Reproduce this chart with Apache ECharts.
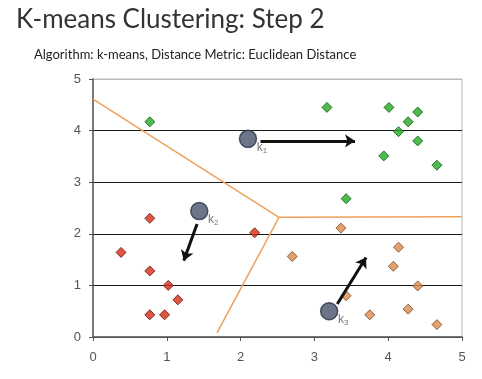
<!DOCTYPE html>
<html>
<head>
<meta charset="utf-8">
<script src="https://cdn.jsdelivr.net/npm/echarts@6/dist/echarts.min.js"></script>
<style>html,body{margin:0;padding:0;background:#fff}#c{width:482px;height:379px}</style>
</head>
<body>
<div id="c"></div>
<script>
// ---- data ----
var titleText = 'K-means Clustering: Step 2';
var subtitleText = 'Algorithm: k-means, Distance Metric: Euclidean Distance';
var xTicks = [0, 1, 2, 3, 4, 5];
var yTicks = [0, 1, 2, 3, 4, 5];

var greenX = [0.77, 3.17, 4.01, 4.40, 4.27, 4.14, 4.40, 3.94, 4.66, 3.43];
var greenY = [4.17, 4.45, 4.45, 4.36, 4.17, 3.98, 3.80, 3.51, 3.33, 2.68];

var redX = [0.77, 0.38, 0.77, 1.02, 1.15, 0.77, 0.97, 2.19];
var redY = [2.30, 1.64, 1.28, 1.00, 0.72, 0.43, 0.43, 2.02];

var orangeX = [3.36, 2.70, 4.14, 4.07, 4.40, 3.43, 4.27, 3.75, 4.66];
var orangeY = [2.11, 1.56, 1.74, 1.37, 0.99, 0.80, 0.54, 0.43, 0.24];

var centroidX = [2.10, 1.44, 3.20];
var centroidY = [3.84, 2.44, 0.50];
var centroidNames = ['1', '2', '3'];

var arrowFromX = [2.27, 1.41, 3.31];
var arrowFromY = [3.80, 2.19, 0.64];
var arrowToX = [3.55, 1.23, 3.70];
var arrowToY = [3.80, 1.48, 1.54];

var boundaryAX = [0, 2.52, 5];
var boundaryAY = [4.61, 2.32, 2.33];
var boundaryBX = [2.52, 1.68];
var boundaryBY = [2.32, 0.08];

function zip(xs, ys) { return xs.map(function (x, i) { return [x, ys[i]]; }); }

var arrows = arrowFromX.map(function (x, i) {
  return { coords: [[x, arrowFromY[i]], [arrowToX[i], arrowToY[i]]] };
});

var chart = echarts.init(document.getElementById('c'));
var FONT = 'Lato';
chart.setOption({
  animation: false,
  backgroundColor: '#fff',
  title: [
    { text: titleText, left: 11, top: 2,
      textStyle: { fontFamily: FONT, fontSize: 26, fontWeight: 'normal', color: '#333' } },
    { text: subtitleText, left: 29, top: 43,
      textStyle: { fontFamily: FONT, fontSize: 13, fontWeight: 'normal', color: '#222' } }
  ],
  grid: { left: 93, right: 20, top: 79, bottom: 42, show: true, borderColor: '#bbb', borderWidth: 1 },
  xAxis: {
    type: 'value', min: xTicks[0], max: xTicks[xTicks.length - 1], interval: 1,
    axisLine: { show: true, lineStyle: { color: '#555', width: 1.5 } },
    axisTick: { show: true, length: 4, lineStyle: { color: '#555' } },
    axisLabel: { margin: 14, fontFamily: 'Liberation Sans', fontSize: 13, color: '#555' },
    splitLine: { show: false }
  },
  yAxis: {
    type: 'value', min: yTicks[0], max: yTicks[yTicks.length - 1], interval: 1,
    axisLine: { show: true, lineStyle: { color: '#555', width: 1.5 } },
    axisTick: { show: true, length: 4, lineStyle: { color: '#555' } },
    axisLabel: { margin: 12, fontFamily: 'Liberation Sans', fontSize: 13, color: '#555' },
    splitLine: { show: true, lineStyle: { color: ['#555', '#1a1a1a', '#1a1a1a', '#1a1a1a', '#1a1a1a', '#bbb'], width: 1.2 } }
  },
  series: [
    { type: 'line', data: zip(boundaryAX, boundaryAY), symbol: 'none', z: 1,
      lineStyle: { color: '#eea15c', width: 1.5 } },
    { type: 'line', data: zip(boundaryBX, boundaryBY), symbol: 'none', z: 1,
      lineStyle: { color: '#eea15c', width: 1.5 } },
    { type: 'scatter', data: zip(greenX, greenY), symbol: 'diamond', symbolSize: 10, z: 3,
      itemStyle: { color: '#22a822', borderColor: '#0e5c0e', borderWidth: 1 } },
    { type: 'scatter', data: zip(redX, redY), symbol: 'diamond', symbolSize: 10, z: 3,
      itemStyle: { color: '#d42a14', borderColor: '#6a1208', borderWidth: 1 } },
    { type: 'scatter', data: zip(orangeX, orangeY), symbol: 'diamond', symbolSize: 10, z: 3,
      itemStyle: { color: '#d98a4c', borderColor: '#7a4a22', borderWidth: 1 } },
    { type: 'lines', coordinateSystem: 'cartesian2d', data: arrows, z: 4,
      symbol: ['none', 'arrow'], symbolSize: 10,
      lineStyle: { color: '#111', width: 3, opacity: 1, curveness: 0 } },
    { type: 'scatter', z: 5, symbol: 'circle', symbolSize: 17,
      data: centroidX.map(function (x, i) { return { value: [x, centroidY[i]], name: centroidNames[i] }; }),
      itemStyle: { color: '#48536c', borderColor: '#2b3347', borderWidth: 1.5 },
      label: {
        show: true, position: [18, 11],
        formatter: function (p) { return '{k|k}{s|' + p.name + '}'; },
        rich: {
          k: { fontFamily: 'Liberation Sans', fontSize: 12, color: '#555' },
          s: { fontFamily: 'Liberation Sans', fontSize: 8, color: '#555', padding: [6, 0, 0, 0] }
        }
      }
    }
  ]
});
</script>
</body>
</html>
